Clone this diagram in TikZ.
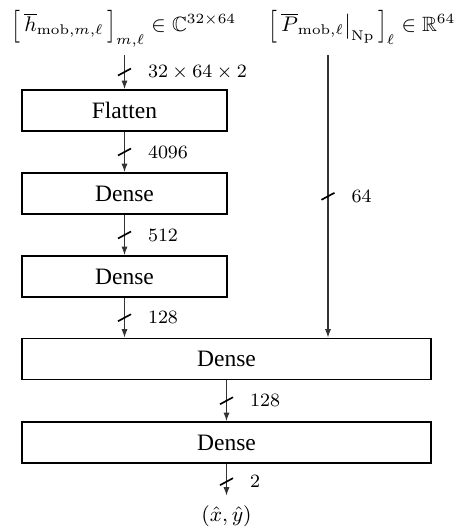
\documentclass[tikz,border=0pt]{standalone}
\usepackage{amsmath,amssymb,graphicx}
\usepackage[no-math]{fontspec}
\setmainfont{Liberation Serif}
\usetikzlibrary{arrows.meta}
\newcommand\tallopen{\mathopen{\vcenter{\hbox{\scalebox{1}[1.32]{$\big[$}}}}}
\newcommand\tallclose{\mathclose{\vcenter{\hbox{\scalebox{1}[1.32]{$\big]$}}}}}
\begin{document}
\begin{tikzpicture}[x=0.4255pt,y=-0.4255pt,
  box/.style={draw,line width=0.8pt,minimum height=41*0.4255pt,inner sep=0pt,font=\fontsize{10}{12}\selectfont},
  sbox/.style={box,minimum width=205*0.4255pt},
  wbox/.style={box,minimum width=409*0.4255pt},
  inlbl/.style={inner sep=0pt,anchor=base,font=\fontsize{8.8}{10.5}\selectfont},
  arr/.style={-{Latex[length=3.6pt,width=2.6pt]},line width=0.45pt,draw=black!80},
  lbl/.style={anchor=west,font=\fontsize{8.5}{10}\selectfont,inner sep=0pt,xshift=23*0.4255pt},
  busmark/.pic={\draw[-,line width=0.7pt,black] (-6.5,3.5) -- (6.5,-3.5);}]
\useasboundingbox (0,0) rectangle (456,529);
% inputs
\node[inlbl] (in1) at (124,32) {$\tallopen\,\overline{h}_{\mathrm{mob},m,\ell}\,\tallclose_{m,\ell} \in \mathbb{C}^{32\times 64}$};
\node[inlbl] (in2) at (362,32) {$\tallopen\,\overline{P}_{\mathrm{mob},\ell}\big|_{\mathrm{Np}}\,\tallclose_{\ell} \in \mathbb{R}^{64}$};
\coordinate (t1) at (124.5,55);
\coordinate (t2) at (328,55);
% boxes
\node[sbox] (flat) at (124.5,110.5) {Flatten};
\node[sbox] (d1) at (124.5,193.5) {Dense};
\node[sbox] (d2) at (124.5,276.5) {Dense};
\node[wbox] (d3) at (226.5,359) {Dense};
\node[wbox] (d4) at (226.5,442.5) {Dense};
\node[inner sep=4.2pt,font=\fontsize{8.8}{10.5}\selectfont] (out) at (226.5,516.5) {$(\hat{x},\hat{y})$};
% connectors
\draw[arr] (t1) -- pic[pos=.5]{busmark} node[pos=.5,lbl]{$32\times 64\times 2$} (flat.north);
\draw[arr] (flat.south) -- pic[pos=.5]{busmark} node[pos=.5,lbl]{$4096$} (d1.north);
\draw[arr] (d1.south) -- pic[pos=.5]{busmark} node[pos=.5,lbl]{$512$} (d2.north);
\draw[arr] (d2.south) -- pic[pos=.5]{busmark} node[pos=.5,lbl]{$128$} (d2.south |- d3.north);
\draw[arr] (t2) -- pic[pos=.5]{busmark} node[pos=.5,lbl]{$64$} (t2 |- d3.north);
\draw[arr] (d3.south) -- pic[pos=.5]{busmark} node[pos=.5,lbl]{$128$} (d4.north);
\draw[arr] (d4.south) -- pic[pos=.56]{busmark} node[pos=.56,lbl]{$2$} (out.north);
\end{tikzpicture}
\end{document}
